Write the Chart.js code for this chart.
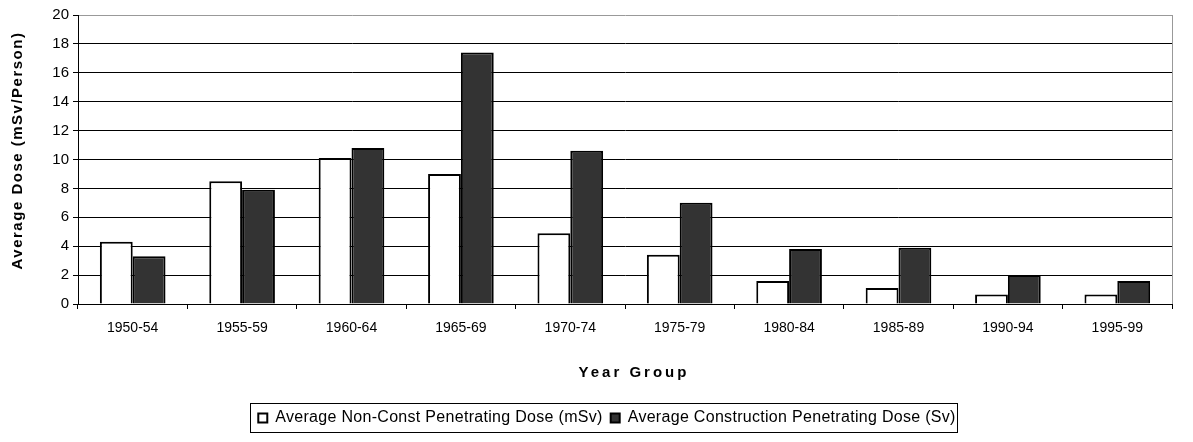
<!DOCTYPE html>
<html>
<head>
<meta charset="utf-8">
<script src="https://cdn.jsdelivr.net/npm/chart.js@4/dist/chart.umd.min.js"></script>
<style>
  html, body { margin: 0; padding: 0; background: #fff; }
  #wrap { width: 1193px; height: 442px; }
</style>
</head>
<body>
<div id="wrap"><canvas id="doseChart"></canvas></div>
<script>
const yearGroups = ["1950-54", "1955-59", "1960-64", "1965-69", "1970-74",
  "1975-79", "1980-84", "1985-89", "1990-94", "1995-99"];
const nonConstDose = [4.3, 8.5, 10.1, 9.0, 4.9, 3.4, 1.6, 1.1, 0.65, 0.65];
const constructionDose = [3.3, 7.9, 10.8, 17.4, 10.6, 7.0, 3.8, 3.9, 2.0, 1.6];
const yTicks = [0, 2, 4, 6, 8, 10, 12, 14, 16, 18, 20];

const fontFamily = "'Liberation Sans', Arial, sans-serif";
const legendShift = 21;

// wrap a draw call so its text gets some letter spacing (excel look)
function withSpacing(obj, name, spacing, dx = 0, dy = 0) {
  const orig = obj[name];
  obj[name] = function (...args) {
    const ctx = this.ctx;
    ctx.save();
    ctx.letterSpacing = spacing;
    if (dx || dy) ctx.translate(dx, dy);
    const res = orig.apply(this, args);
    ctx.restore();
    return res;
  };
}

function spaceTitle(scale, spacing, dx, dy) {
  if (scale._spaced) return;
  scale._spaced = true;
  withSpacing(scale, "drawTitle", spacing, dx, dy);
}

// frame: gray right border of the plot area + box round the legend
const framePlugin = {
  id: "frame",
  afterInit(chart) {
    withSpacing(chart.legend, "fit", "0.3px");
    withSpacing(chart.legend, "draw", "0.3px", legendShift);
  },
  afterDraw(chart) {
    const ctx = chart.ctx;
    const area = chart.chartArea;
    ctx.save();
    ctx.strokeStyle = "#999";
    ctx.lineWidth = 1;
    ctx.beginPath();
    ctx.moveTo(Math.round(area.right) + 0.5, area.top);
    ctx.lineTo(Math.round(area.right) + 0.5, area.bottom);
    ctx.stroke();

    const boxes = chart.legend.legendHitBoxes;
    if (boxes && boxes.length) {
      let left = Math.min(...boxes.map((b) => b.left)) + legendShift;
      let right = Math.max(...boxes.map((b) => b.left + b.width)) + legendShift;
      let top = Math.min(...boxes.map((b) => b.top));
      let bottom = Math.max(...boxes.map((b) => b.top + b.height));
      ctx.strokeStyle = "#000";
      ctx.strokeRect(Math.round(left - 8) + 0.5, Math.round(top - 7) + 0.5,
        Math.round(right - left + 10), Math.round(bottom - top + 13));
    }
    ctx.restore();
  },
};

const doseChart = new Chart(document.getElementById("doseChart"), {
  type: "bar",
  data: {
    labels: yearGroups,
    datasets: [
      {
        label: "Average Non-Const Penetrating Dose (mSv)",
        data: nonConstDose,
        backgroundColor: "#ffffff",
        borderColor: "#000000",
        borderWidth: 2,
        categoryPercentage: 0.6,
        barPercentage: 1.0,
      },
      {
        label: "Average Construction Penetrating Dose (Sv)",
        data: constructionDose,
        backgroundColor: "#333333",
        borderColor: "#000000",
        borderWidth: 2,
        categoryPercentage: 0.6,
        barPercentage: 1.0,
      },
    ],
  },
  options: {
    responsive: true,
    maintainAspectRatio: false,
    animation: false,
    layout: { padding: { top: 15, right: 21, left: 0, bottom: 6 } },
    plugins: {
      tooltip: { enabled: false },
      legend: {
        position: "bottom",
        labels: {
          color: "#000",
          font: { family: fontFamily, size: 16 },
          boxWidth: 9,
          boxHeight: 9,
          padding: 8,
        },
      },
    },
    scales: {
      x: {
        afterFit(scale) {
          scale.height = 98;
          spaceTitle(scale, "3px", 9, 0);
        },
        grid: {
          offset: true,
          drawOnChartArea: false,
          drawTicks: true,
          tickLength: 5,
          color: "#000",
        },
        border: { color: "#000", width: 1 },
        ticks: {
          color: "#000",
          font: { family: fontFamily, size: 14 },
          padding: 11,
          maxRotation: 0,
        },
        title: {
          display: true,
          text: "Year Group",
          color: "#000",
          font: { family: fontFamily, size: 15, weight: "bold" },
          padding: { top: 0, bottom: 20 },
        },
      },
      y: {
        min: 0,
        max: 20,
        afterBuildTicks(scale) {
          scale.ticks = yTicks.map((v) => ({ value: v }));
        },
        afterFit(scale) {
          scale.width = 78;
          spaceTitle(scale, "1.5px", 0, -9);
        },
        grid: {
          color: (c) => (c.tick && c.tick.value === 20 ? "#999" : "#000"),
          tickColor: "#000",
          tickLength: 5,
        },
        border: { color: "#000", width: 1 },
        ticks: {
          color: "#000",
          font: { family: fontFamily, size: 15 },
          padding: 4,
        },
        title: {
          display: true,
          text: "Average Dose (mSv/Person)",
          color: "#000",
          font: { family: fontFamily, size: 15, weight: "bold" },
          padding: { top: 9, bottom: 4 },
        },
      },
    },
  },
  plugins: [framePlugin],
});
</script>
</body>
</html>
